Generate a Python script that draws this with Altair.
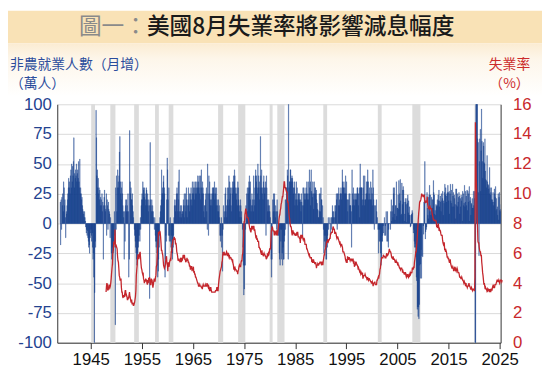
import altair as alt
import pandas as pd

# ---------------- data (monthly) ----------------
# Nonfarm payroll monthly change, 10k persons (萬人), one row per year
payroll_1930s = [
    [18, -18, 20, -5, 22, 15, 25, 10, 35, 30, 15, 20],            # 1939
]
payroll_1940s = [
    [5, -12, 10, 8, 15, 20, 25, 30, 38, 35, 30, 25],              # 1940
    [40, 45, 30, 50, 35, 48, 40, 52, 72, 30, 42, 38],             # 1941
    [45, 40, 50, 35, 42, 45, 38, 52, 35, 30, 54, 25],             # 1942
    [30, 25, 20, 22, 15, 12, 10, 8, 5, 10, 5, 2],                 # 1943
    [-3, -8, -5, -10, -6, -12, -15, -20, -18, -25, -12, -8],      # 1944
    [-5, -10, -15, -8, -20, -30, -25, -45, -196, -58, -15, -20],  # 1945
    [95, 72, 40, 45, 30, 38, 25, 30, 20, 28, 15, 22],             # 1946
    [20, 15, 25, 10, 18, -30, 15, 22, 28, 15, 10, 12],            # 1947
    [25, -10, 20, 15, -5, 18, 12, 10, 8, -12, 5, 0],              # 1948
    [-25, -30, -20, -35, -25, -15, -20, 10, -10, -85, 30, -5],    # 1949
]
payroll_1950s = [
    [40, 10, 30, 45, 35, 30, 40, 60, 73, 35, 25, 20],             # 1950
    [30, 35, 25, 15, 10, 5, -30, 10, -15, 15, 20, 10],            # 1951
    [20, 15, 10, 25, 10, -45, -30, 78, 35, 25, 30, 20],           # 1952
    [20, 25, 15, 10, 5, 0, -5, -10, -15, -20, -25, -30],          # 1953
    [-35, -25, -30, -20, -15, -10, -5, -15, 5, -5, 15, 20],       # 1954
    [25, 20, 35, 30, 28, 22, 30, 25, 20, 15, 30, 28],             # 1955
    [20, 25, 15, 10, 20, 15, -63, 68, 20, 15, 10, 20],            # 1956
    [10, 15, 10, 5, 0, -5, 5, -10, -15, -20, -15, -25],           # 1957
    [-35, -45, -40, -30, -20, -10, 5, 10, 15, 20, 45, 25],        # 1958
    [30, 25, 35, 40, 30, 25, -45, -30, -10, -15, 20, 55],         # 1959
]
payroll_1960s = [
    [45, 20, -10, 30, -15, -10, 5, -15, -20, -10, -25, -30],      # 1960
    [-25, -20, -10, 5, 15, 20, 15, 10, 20, 25, 30, 25],           # 1961
    [10, 35, 20, 45, 10, 5, 15, 10, 5, 15, 8, 10],                # 1962
    [10, 20, 15, 25, 5, 15, 25, 10, 30, 20, 5, 15],               # 1963
    [20, 30, 15, 25, 10, 20, 25, 30, 20, 15, 35, 25],             # 1964
    [25, 30, 35, 20, 30, 25, 35, 30, 25, 35, 30, 40],             # 1965
    [30, 35, 40, 25, 30, 40, 20, 45, 30, 25, 35, 30],             # 1966
    [25, 10, 15, 5, 15, 20, 25, 30, 10, -5, 50, 25],              # 1967
    [-10, 40, 25, 35, 20, 15, 25, 20, 15, 30, 25, 30],            # 1968
    [30, 25, 35, 20, 30, 25, 15, 30, 20, 15, 10, 20],             # 1969
]
payroll_1970s = [
    [10, 15, 5, -10, -15, -10, 5, -20, -10, -40, -5, 15],         # 1970
    [0, 10, 5, 25, 30, 10, 15, 5, 30, 20, 15, 30],                # 1971
    [40, 20, 35, 25, 30, 15, 10, 30, 25, 35, 30, 40],             # 1972
    [35, 45, 40, 25, 30, 25, 20, 30, 15, 35, 30, 20],             # 1973
    [15, 10, 5, 20, 15, 5, 10, 0, -5, -20, -35, -60],             # 1974
    [-55, -35, -35, -5, 15, 5, 25, 30, 10, 25, 30, 35],           # 1975
    [40, 30, 35, 20, 10, 15, 25, 15, 20, 10, 40, 20],             # 1976
    [15, 30, 40, 45, 35, 40, 30, 25, 50, 30, 40, 35],             # 1977
    [20, 30, 73, 40, 30, 45, 25, 30, 20, 35, 40, 30],             # 1978
    [25, 30, 35, -10, 40, 30, 20, 10, 15, 20, 10, 15],            # 1979
]
payroll_1980s = [
    [10, 5, 0, -30, -45, -30, 0, 20, 10, 25, 20, 25],             # 1980
    [10, 5, 15, 10, -5, 20, 10, -10, 0, -10, -25, -30],           # 1981
    [-35, -5, -15, -30, -5, -25, -35, -20, -30, -30, -15, -10],   # 1982
    [20, -5, 20, 30, 30, 45, 40, -30, 110, 30, 35, 35],           # 1983
    [45, 45, 35, 38, 40, 38, 35, 25, 30, 30, 35, 15],             # 1984
    [25, 20, 35, 20, 30, 15, 20, 25, 25, 20, 25, 18],             # 1985
    [20, 10, 25, 18, 15, -10, 30, 15, 30, 25, 20, 25],            # 1986
    [20, 30, 25, 35, 25, 20, 35, 20, 25, 45, 30, 35],             # 1987
    [15, 45, 27, 25, 22, 35, 25, 12, 35, 25, 30, 30],             # 1988
    [25, 28, 20, 17, 12, 11, 5, 5, 25, 10, 25, 10],               # 1989
]
payroll_1990s = [
    [30, 20, 20, 0, 15, 5, -5, -25, -10, -15, -20, -10],          # 1990
    [-30, -30, -15, -20, -10, 5, -5, 0, 0, 5, -10, 0],            # 1991
    [5, -5, 5, 15, 10, 5, 10, 0, 5, 15, 10, 15],                  # 1992
    [25, 20, -5, 25, 25, 15, 30, 15, 20, 25, 25, 30],             # 1993
    [25, 20, 45, 35, 30, 30, 35, 25, 30, 25, 40, 25],             # 1994
    [35, 20, 20, 10, 0, 20, 25, 15, 25, 15, 15, 10],              # 1995
    [-20, 45, 25, 15, 30, 20, 25, 15, 20, 25, 20, 20],            # 1996
    [25, 30, 30, 25, 15, 25, 30, 5, 50, 30, 30, 30],              # 1997
    [30, 20, 15, 30, 40, 20, 15, 40, 20, 20, 25, 35],             # 1998
    [25, 35, 45, 35, 20, 25, 30, 20, 20, 35, 20, 30],             # 1999
]
payroll_2000s = [
    [25, 15, 45, 30, 20, -5, 15, 0, 15, 0, 20, 10],               # 2000
    [5, 0, -5, -25, -5, -15, -5, -15, -25, -35, -30, -15],        # 2001
    [-15, -10, -2, -8, 0, 5, -10, -2, -10, 10, 0, -15],           # 2002
    [10, -15, -20, -5, 0, 0, 0, -5, 10, 20, 2, 10],               # 2003
    [15, 5, 30, 25, 30, 8, 3, 15, 15, 35, 6, 13],                 # 2004
    [13, 24, 12, 36, 17, 25, 37, 19, 7, 8, 34, 16],               # 2005
    [28, 31, 28, 18, 2, 8, 21, 18, 16, 1, 21, 17],                # 2006
    [24, 9, 19, 7, 14, 7, -3, -2, 7, 8, 11, 9],                   # 2007
    [0, -8, -5, -15, -20, -17, -20, -28, -45, -48, -72, -70],     # 2008
    [-78, -70, -80, -68, -35, -46, -34, -22, -46, -27, 0, -28],   # 2009
]
payroll_2010s = [
    [-2, -9, 18, 24, 52, -13, -7, -5, -3, 26, 13, 7],             # 2010
    [4, 22, 24, 32, 10, 24, 7, 11, 22, 20, 13, 20],               # 2011
    [36, 26, 24, 8, 11, 7, 16, 15, 14, 20, 15, 24],               # 2012
    [19, 28, 14, 19, 23, 18, 10, 25, 19, 21, 27, 7],              # 2013
    [19, 17, 26, 33, 24, 30, 23, 18, 25, 26, 32, 26],             # 2014
    [19, 27, 8, 25, 33, 19, 28, 17, 14, 33, 23, 26],              # 2015
    [14, 24, 21, 16, 4, 29, 29, 15, 25, 14, 18, 22],              # 2016
    [26, 23, 8, 21, 14, 24, 19, 22, 2, 27, 25, 15],               # 2017
    [17, 32, 14, 18, 27, 23, 15, 28, 11, 27, 18, 25],             # 2018
    [31, 2, 19, 22, 7, 17, 16, 21, 13, 13, 27, 15],               # 2019
]
payroll_2020s = [
    [21, 27, -137, -2070, 273, 478, 171, 149, 71, 68, 26, -27],   # 2020
    [52, 71, 79, 27, 61, 96, 69, 52, 38, 68, 65, 51],             # 2021
    [50, 71, 44, 37, 36, 30, 57, 35, 33, 32, 29, 25],             # 2022
    [47, 30, 24, 26, 30, 20, 20, 18, 26, 15, 18, 29],             # 2023
    [25, 22, 31, 11, 21, 12, 14, 7, 25, 3, 22, 26],               # 2024
    [11, 10, 12, 16, 2, -1, 7],                                   # 2025
]

# Unemployment rate (%), monthly from 1948
unrate_1940s = [
    [3.4, 3.8, 4.0, 3.9, 3.5, 3.6, 3.6, 3.9, 3.8, 3.7, 3.8, 4.0],
    [4.3, 4.7, 5.0, 5.3, 6.1, 6.2, 6.7, 6.8, 6.6, 7.6, 6.4, 6.6],
]
unrate_1950s = [
    [6.5, 6.4, 6.3, 5.8, 5.5, 5.4, 5.0, 4.5, 4.4, 4.2, 4.2, 4.3],
    [3.7, 3.4, 3.4, 3.1, 3.0, 3.2, 3.1, 3.1, 3.3, 3.5, 3.5, 3.1],
    [3.2, 3.1, 2.9, 2.9, 3.0, 3.0, 3.2, 3.4, 3.1, 3.0, 2.8, 2.7],
    [2.9, 2.6, 2.6, 2.7, 2.5, 2.5, 2.6, 2.7, 2.9, 3.1, 3.5, 4.5],
    [4.9, 5.2, 5.7, 5.9, 5.9, 5.6, 5.8, 6.0, 6.1, 5.7, 5.3, 5.0],
    [4.9, 4.7, 4.6, 4.7, 4.3, 4.2, 4.0, 4.2, 4.1, 4.3, 4.2, 4.2],
    [4.0, 3.9, 4.2, 4.0, 4.3, 4.3, 4.4, 4.1, 3.9, 3.9, 4.3, 4.2],
    [4.2, 3.9, 3.7, 3.9, 4.1, 4.3, 4.2, 4.1, 4.4, 4.5, 5.1, 5.2],
    [5.8, 6.4, 6.7, 7.4, 7.4, 7.3, 7.5, 7.4, 7.1, 6.7, 6.2, 6.2],
    [6.0, 5.9, 5.6, 5.2, 5.1, 5.0, 5.1, 5.2, 5.5, 5.7, 5.8, 5.3],
]
unrate_1960s = [
    [5.2, 4.8, 5.4, 5.2, 5.1, 5.4, 5.5, 5.6, 5.5, 6.1, 6.1, 6.6],
    [6.6, 6.9, 6.9, 7.0, 7.1, 6.9, 7.0, 6.6, 6.7, 6.5, 6.1, 6.0],
    [5.8, 5.5, 5.6, 5.6, 5.5, 5.5, 5.4, 5.7, 5.6, 5.4, 5.7, 5.5],
    [5.7, 5.9, 5.7, 5.7, 5.9, 5.6, 5.6, 5.4, 5.5, 5.5, 5.7, 5.5],
    [5.6, 5.4, 5.4, 5.3, 5.1, 5.2, 4.9, 5.0, 5.1, 5.1, 4.8, 5.0],
    [4.9, 5.1, 4.7, 4.8, 4.6, 4.6, 4.4, 4.4, 4.3, 4.2, 4.1, 4.0],
    [4.0, 3.8, 3.8, 3.8, 3.9, 3.8, 3.8, 3.8, 3.7, 3.7, 3.6, 3.8],
    [3.9, 3.8, 3.8, 3.8, 3.8, 3.9, 3.8, 3.8, 3.8, 4.0, 3.9, 3.8],
    [3.7, 3.8, 3.7, 3.5, 3.5, 3.7, 3.7, 3.5, 3.4, 3.4, 3.4, 3.4],
    [3.4, 3.4, 3.4, 3.4, 3.4, 3.5, 3.5, 3.5, 3.7, 3.7, 3.5, 3.5],
]
unrate_1970s = [
    [3.9, 4.2, 4.4, 4.6, 4.8, 4.9, 5.0, 5.1, 5.4, 5.5, 5.9, 6.1],
    [5.9, 5.9, 6.0, 5.9, 5.9, 5.9, 6.0, 6.1, 6.0, 5.8, 6.0, 6.0],
    [5.8, 5.7, 5.8, 5.7, 5.7, 5.7, 5.6, 5.6, 5.5, 5.6, 5.3, 5.2],
    [4.9, 5.0, 4.9, 5.0, 4.9, 4.9, 4.8, 4.8, 4.8, 4.6, 4.8, 4.9],
    [5.1, 5.2, 5.1, 5.1, 5.1, 5.4, 5.5, 5.5, 5.9, 6.0, 6.6, 7.2],
    [8.1, 8.1, 8.6, 8.8, 9.0, 8.8, 8.6, 8.4, 8.4, 8.4, 8.3, 8.2],
    [7.9, 7.7, 7.6, 7.7, 7.4, 7.6, 7.8, 7.8, 7.6, 7.7, 7.8, 7.8],
    [7.5, 7.6, 7.4, 7.2, 7.0, 7.2, 6.9, 7.0, 6.8, 6.8, 6.8, 6.4],
    [6.4, 6.3, 6.3, 6.1, 6.0, 5.9, 6.2, 5.9, 6.0, 5.8, 5.9, 6.0],
    [5.9, 5.9, 5.8, 5.8, 5.6, 5.7, 5.7, 6.0, 5.9, 6.0, 5.9, 6.0],
]
unrate_1980s = [
    [6.3, 6.3, 6.3, 6.9, 7.5, 7.6, 7.8, 7.7, 7.5, 7.5, 7.5, 7.2],
    [7.5, 7.4, 7.4, 7.2, 7.5, 7.5, 7.2, 7.4, 7.6, 7.9, 8.3, 8.5],
    [8.6, 8.9, 9.0, 9.3, 9.4, 9.6, 9.8, 9.8, 10.1, 10.4, 10.8, 10.8],
    [10.4, 10.4, 10.3, 10.2, 10.1, 10.1, 9.4, 9.5, 9.2, 8.8, 8.5, 8.3],
    [8.0, 7.8, 7.8, 7.7, 7.4, 7.2, 7.5, 7.5, 7.3, 7.4, 7.2, 7.3],
    [7.3, 7.2, 7.2, 7.3, 7.2, 7.4, 7.4, 7.1, 7.1, 7.1, 7.0, 7.0],
    [6.7, 7.2, 7.2, 7.1, 7.2, 7.2, 7.0, 6.9, 7.0, 7.0, 6.9, 6.6],
    [6.6, 6.6, 6.6, 6.3, 6.3, 6.2, 6.1, 6.0, 5.9, 6.0, 5.8, 5.7],
    [5.7, 5.7, 5.7, 5.4, 5.6, 5.4, 5.4, 5.6, 5.4, 5.4, 5.3, 5.3],
    [5.4, 5.2, 5.0, 5.2, 5.2, 5.3, 5.2, 5.2, 5.3, 5.3, 5.4, 5.4],
]
unrate_1990s = [
    [5.4, 5.3, 5.2, 5.4, 5.4, 5.2, 5.5, 5.7, 5.9, 5.9, 6.2, 6.3],
    [6.4, 6.6, 6.8, 6.7, 6.9, 6.9, 6.8, 6.9, 6.9, 7.0, 7.0, 7.3],
    [7.3, 7.4, 7.4, 7.4, 7.6, 7.8, 7.7, 7.6, 7.6, 7.3, 7.4, 7.4],
    [7.3, 7.1, 7.0, 7.1, 7.1, 7.0, 6.9, 6.8, 6.7, 6.8, 6.6, 6.5],
    [6.6, 6.6, 6.5, 6.4, 6.1, 6.1, 6.1, 6.0, 5.9, 5.8, 5.6, 5.5],
    [5.6, 5.4, 5.4, 5.8, 5.6, 5.6, 5.7, 5.7, 5.6, 5.5, 5.6, 5.6],
    [5.6, 5.5, 5.5, 5.6, 5.6, 5.3, 5.5, 5.1, 5.2, 5.2, 5.4, 5.4],
    [5.3, 5.2, 5.2, 5.1, 4.9, 5.0, 4.9, 4.8, 4.9, 4.7, 4.6, 4.7],
    [4.6, 4.6, 4.7, 4.3, 4.4, 4.5, 4.5, 4.5, 4.6, 4.5, 4.4, 4.4],
    [4.3, 4.4, 4.2, 4.3, 4.2, 4.3, 4.3, 4.2, 4.2, 4.1, 4.1, 4.0],
]
unrate_2000s = [
    [4.0, 4.1, 4.0, 3.8, 4.0, 4.0, 4.0, 4.1, 3.9, 3.9, 3.9, 3.9],
    [4.2, 4.2, 4.3, 4.4, 4.3, 4.5, 4.6, 4.9, 5.0, 5.3, 5.5, 5.7],
    [5.7, 5.7, 5.7, 5.9, 5.8, 5.8, 5.8, 5.7, 5.7, 5.7, 5.9, 6.0],
    [5.8, 5.9, 5.9, 6.0, 6.1, 6.3, 6.2, 6.1, 6.1, 6.0, 5.8, 5.7],
    [5.7, 5.6, 5.8, 5.6, 5.6, 5.6, 5.5, 5.4, 5.4, 5.5, 5.4, 5.4],
    [5.3, 5.4, 5.2, 5.2, 5.1, 5.0, 5.0, 4.9, 5.0, 5.0, 5.0, 4.9],
    [4.7, 4.8, 4.7, 4.7, 4.6, 4.6, 4.7, 4.7, 4.5, 4.4, 4.5, 4.4],
    [4.6, 4.5, 4.4, 4.5, 4.4, 4.6, 4.7, 4.6, 4.7, 4.7, 4.7, 5.0],
    [5.0, 4.9, 5.1, 5.0, 5.4, 5.6, 5.8, 6.1, 6.1, 6.5, 6.8, 7.3],
    [7.8, 8.3, 8.7, 9.0, 9.4, 9.5, 9.5, 9.6, 9.8, 10.0, 9.9, 9.9],
]
unrate_2010s = [
    [9.8, 9.8, 9.9, 9.9, 9.6, 9.4, 9.4, 9.5, 9.5, 9.4, 9.8, 9.3],
    [9.1, 9.0, 9.0, 9.1, 9.0, 9.1, 9.0, 9.0, 9.0, 8.8, 8.6, 8.5],
    [8.3, 8.3, 8.2, 8.2, 8.2, 8.2, 8.2, 8.1, 7.8, 7.8, 7.7, 7.9],
    [8.0, 7.7, 7.5, 7.6, 7.5, 7.5, 7.3, 7.2, 7.2, 7.2, 6.9, 6.7],
    [6.6, 6.7, 6.7, 6.2, 6.3, 6.1, 6.2, 6.1, 5.9, 5.7, 5.8, 5.6],
    [5.7, 5.5, 5.4, 5.4, 5.6, 5.3, 5.2, 5.1, 5.0, 5.0, 5.1, 5.0],
    [4.8, 4.9, 5.0, 5.1, 4.8, 4.9, 4.8, 4.9, 5.0, 4.9, 4.7, 4.7],
    [4.7, 4.6, 4.4, 4.4, 4.4, 4.3, 4.3, 4.4, 4.3, 4.2, 4.2, 4.1],
    [4.0, 4.1, 4.0, 4.0, 3.8, 4.0, 3.8, 3.8, 3.7, 3.8, 3.8, 3.9],
    [4.0, 3.8, 3.8, 3.7, 3.6, 3.6, 3.7, 3.6, 3.5, 3.6, 3.6, 3.6],
]
unrate_2020s = [
    [3.5, 3.5, 4.4, 14.8, 13.2, 11.0, 10.2, 8.4, 7.8, 6.8, 6.7, 6.7],
    [6.4, 6.2, 6.1, 6.1, 5.8, 5.9, 5.4, 5.1, 4.7, 4.5, 4.2, 3.9],
    [4.0, 3.8, 3.6, 3.7, 3.6, 3.6, 3.5, 3.6, 3.5, 3.6, 3.6, 3.5],
    [3.4, 3.6, 3.5, 3.4, 3.6, 3.6, 3.5, 3.7, 3.8, 3.9, 3.7, 3.7],
    [3.7, 3.9, 3.9, 3.9, 4.0, 4.1, 4.2, 4.2, 4.1, 4.1, 4.2, 4.1],
    [4.0, 4.1, 4.2, 4.2, 4.2, 4.1, 4.2],
]

# NBER recessions (start, end)
rec_start = ["1945-02-01", "1948-11-01", "1953-07-01", "1957-08-01", "1960-04-01",
             "1969-12-01", "1973-11-01", "1980-01-01", "1981-07-01", "1990-07-01",
             "2001-03-01", "2007-12-01", "2020-02-01"]
rec_end = ["1945-10-31", "1949-10-31", "1954-05-31", "1958-04-30", "1961-02-28",
           "1970-11-30", "1975-03-31", "1980-07-31", "1982-11-30", "1991-03-31",
           "2001-11-30", "2009-06-30", "2020-04-30"]

x_years = list(range(1945, 2026, 10))
left_ticks = list(range(-100, 101, 25))
right_ticks = list(range(0, 17, 2))


def flatten(decades):
    return [v for dec in decades for row in dec for v in row]


pay = flatten([payroll_1930s, payroll_1940s, payroll_1950s, payroll_1960s, payroll_1970s,
               payroll_1980s, payroll_1990s, payroll_2000s, payroll_2010s, payroll_2020s])
pay_d = pd.date_range("1939-01-01", periods=len(pay), freq="MS")
bars_df = pd.DataFrame({
    "d": pay_d.strftime("%Y-%m-%d"),
    "d2": (pay_d + pd.offsets.MonthBegin(1)).strftime("%Y-%m-%d"),
    "v": pay,
})

ur = flatten([unrate_1940s, unrate_1950s, unrate_1960s, unrate_1970s, unrate_1980s,
              unrate_1990s, unrate_2000s, unrate_2010s, unrate_2020s])
ur_d = pd.date_range("1948-01-01", periods=len(ur), freq="MS")
line_df = pd.DataFrame({"d": ur_d.strftime("%Y-%m-%d"), "u": ur})

rec_df = pd.DataFrame({"d": rec_start, "d2": rec_end})
one = pd.DataFrame({"k": [0]})

# ---------------- styles ----------------
W, H = 450, 242
NARROW = "Liberation Sans Narrow, Arial Narrow, Liberation Sans, sans-serif"
CJK = "Noto Sans CJK TC"
BLUE_TXT = "#23428f"
RED_TXT = "#c8282c"
BAR = "#17428f"

xscale = alt.Scale(domain=[alt.DateTime(year=1938, month=6, date=15),
                           alt.DateTime(year=2025, month=3, date=10)])
xaxis = alt.Axis(values=[alt.DateTime(year=y, month=1, date=1) for y in x_years],
                 format="%Y", grid=False, title=None, tickSize=6, tickColor="#333333",
                 domainColor="#333333", labelFont=NARROW, labelFontSize=17,
                 labelColor="#111111", labelPadding=3, labelFlush=False,
                 labelOverlap=False)

left_axis = alt.Axis(orient="left", values=left_ticks, title=None, grid=True,
                     gridColor="#d9d9d9", ticks=False, domainColor="#333333",
                     labelFont=NARROW, labelFontSize=17, labelColor=BLUE_TXT,
                     labelPadding=6, labelExpr="datum.value + ''")
right_axis = alt.Axis(orient="right", values=right_ticks, title=None, grid=False,
                      ticks=False, domainColor="#333333", labelFont=NARROW,
                      labelFontSize=17, labelColor=RED_TXT, labelPadding=12)

banner = alt.Chart(one).mark_rect(color="#f9e2b6").encode(
    x=alt.value(-50), x2=alt.value(W + 42), y=alt.value(-95), y2=alt.value(-62))
fade = alt.Chart(one).mark_rect(
    color=alt.Gradient(gradient="linear", x1=0, x2=0, y1=0, y2=1,
                       stops=[alt.GradientStop(color="#fbecd2", offset=0),
                              alt.GradientStop(color="#fdf6ea", offset=0.3),
                              alt.GradientStop(color="#ffffff", offset=1)])
).encode(x=alt.value(-50), x2=alt.value(W + 42), y=alt.value(-62), y2=alt.value(-8))

recess = alt.Chart(rec_df).mark_rect(color="#dcdcdc").encode(
    x=alt.X("d:T", scale=xscale, axis=xaxis),
    x2="d2:T",
    y=alt.value(0), y2=alt.value(H))

bars = alt.Chart(bars_df).mark_bar(color=BAR, stroke=BAR, strokeWidth=0.3,
                                   clip=True).encode(
    x=alt.X("d:T", scale=xscale, axis=xaxis),
    x2="d2:T",
    y=alt.Y("v:Q", scale=alt.Scale(domain=[-100, 100], nice=False), axis=left_axis),
    y2=alt.datum(0))

line = alt.Chart(line_df).mark_line(color="#c4262c", strokeWidth=1.3).encode(
    x=alt.X("d:T", scale=xscale, axis=xaxis),
    y=alt.Y("u:Q", scale=alt.Scale(domain=[0, 16], nice=False), axis=right_axis))


def label(txt, x, y, color, size, align="left", weight="normal"):
    return alt.Chart(one).mark_text(text=txt, font=CJK, fontSize=size, color=color,
                                    align=align, baseline="middle",
                                    fontWeight=weight).encode(
        x=alt.value(x), y=alt.value(y))


t1 = label("圖一：", 22, -78, "#8a8a8a", 23)
t2 = label("美國8月失業率將影響減息幅度", 91, -78, "#1a1a1a", 23, weight=500)
lt1 = label("非農就業人數（月增）", -48, -40, "#2b4c9c", 14)
lt2 = label("（萬人）", -48, -21, "#2b4c9c", 14)
rt1 = label("失業率", 459, -40, "#cc2b2b", 14, align="center")
rt2 = label("（%）", 459, -21, "#cc2b2b", 14, align="center")

chart = alt.layer(
    banner, fade, recess, bars, line, t1, t2, lt1, lt2, rt1, rt2
).resolve_scale(y="independent").properties(
    width=W, height=H,
    padding={"left": 50, "top": 95, "right": 42, "bottom": 26},
    autosize=alt.AutoSizeParams(type="none"),
    background="#ffffff",
).configure_view(stroke=None)

chart.save("out.html", embed_options={"renderer": "svg", "actions": False})
